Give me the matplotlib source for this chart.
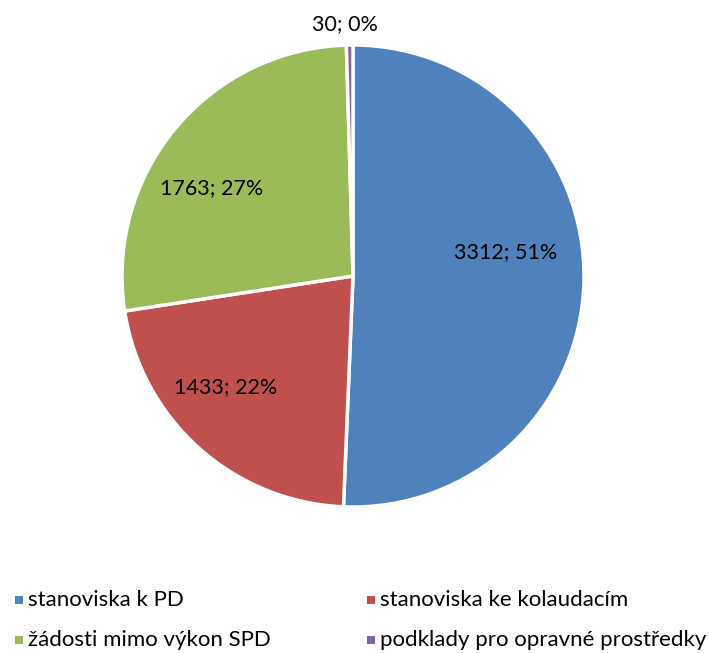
import matplotlib
matplotlib.use("Agg")
import matplotlib.pyplot as plt
from matplotlib.patches import Rectangle
import numpy as np

categories = ["stanoviska k PD", "stanoviska ke kolaudacím",
              "žádosti mimo výkon SPD", "podklady pro opravné prostředky"]
values = [3312, 1433, 1763, 30]
percents = ["51%", "22%", "27%", "0%"]
colors = ["#4F81BD", "#C0504D", "#9BBB59", "#8064A2"]

plt.rcParams['font.family'] = ['Lato', 'DejaVu Sans']

fig = plt.figure(figsize=(7.09, 6.53), dpi=100)
ax = fig.add_axes([122/709, 146/653, 462/709, 462/653])
wedges, _ = ax.pie(values, colors=colors, startangle=90, counterclock=False,
                   wedgeprops=dict(edgecolor="white", linewidth=2.5))
ax.set_xlim(-1, 1); ax.set_ylim(-1, 1)
ax.set_aspect("equal")

# label positions (angle offset in degrees, radius factor)
label_pos = [(10, 0.67), (-7, 0.73), (8, 0.72), (1, 1.09)]
for w, v, p, (da, rf) in zip(wedges, values, percents, label_pos):
    mid = (w.theta1 + w.theta2) / 2 + da
    x = rf * np.cos(np.radians(mid))
    y = rf * np.sin(np.radians(mid))
    ax.text(x, y, f"{v}; {p}", ha="center", va="center", fontsize=15.5, color="black")

# legend
leg_x = [15, 367]
leg_y = [600, 640]
for i, (cat, col) in enumerate(zip(categories, colors)):
    px = leg_x[i % 2]
    py = leg_y[i // 2]
    fig.patches.append(Rectangle((px/709, 1 - (py + 4)/653), 8/709, 8/653,
                                 transform=fig.transFigure, facecolor=col, edgecolor="none"))
    fig.text((px + 13)/709, 1 - py/653, cat, ha="left", va="center", fontsize=16)

fig.savefig("out.png", dpi=100)
